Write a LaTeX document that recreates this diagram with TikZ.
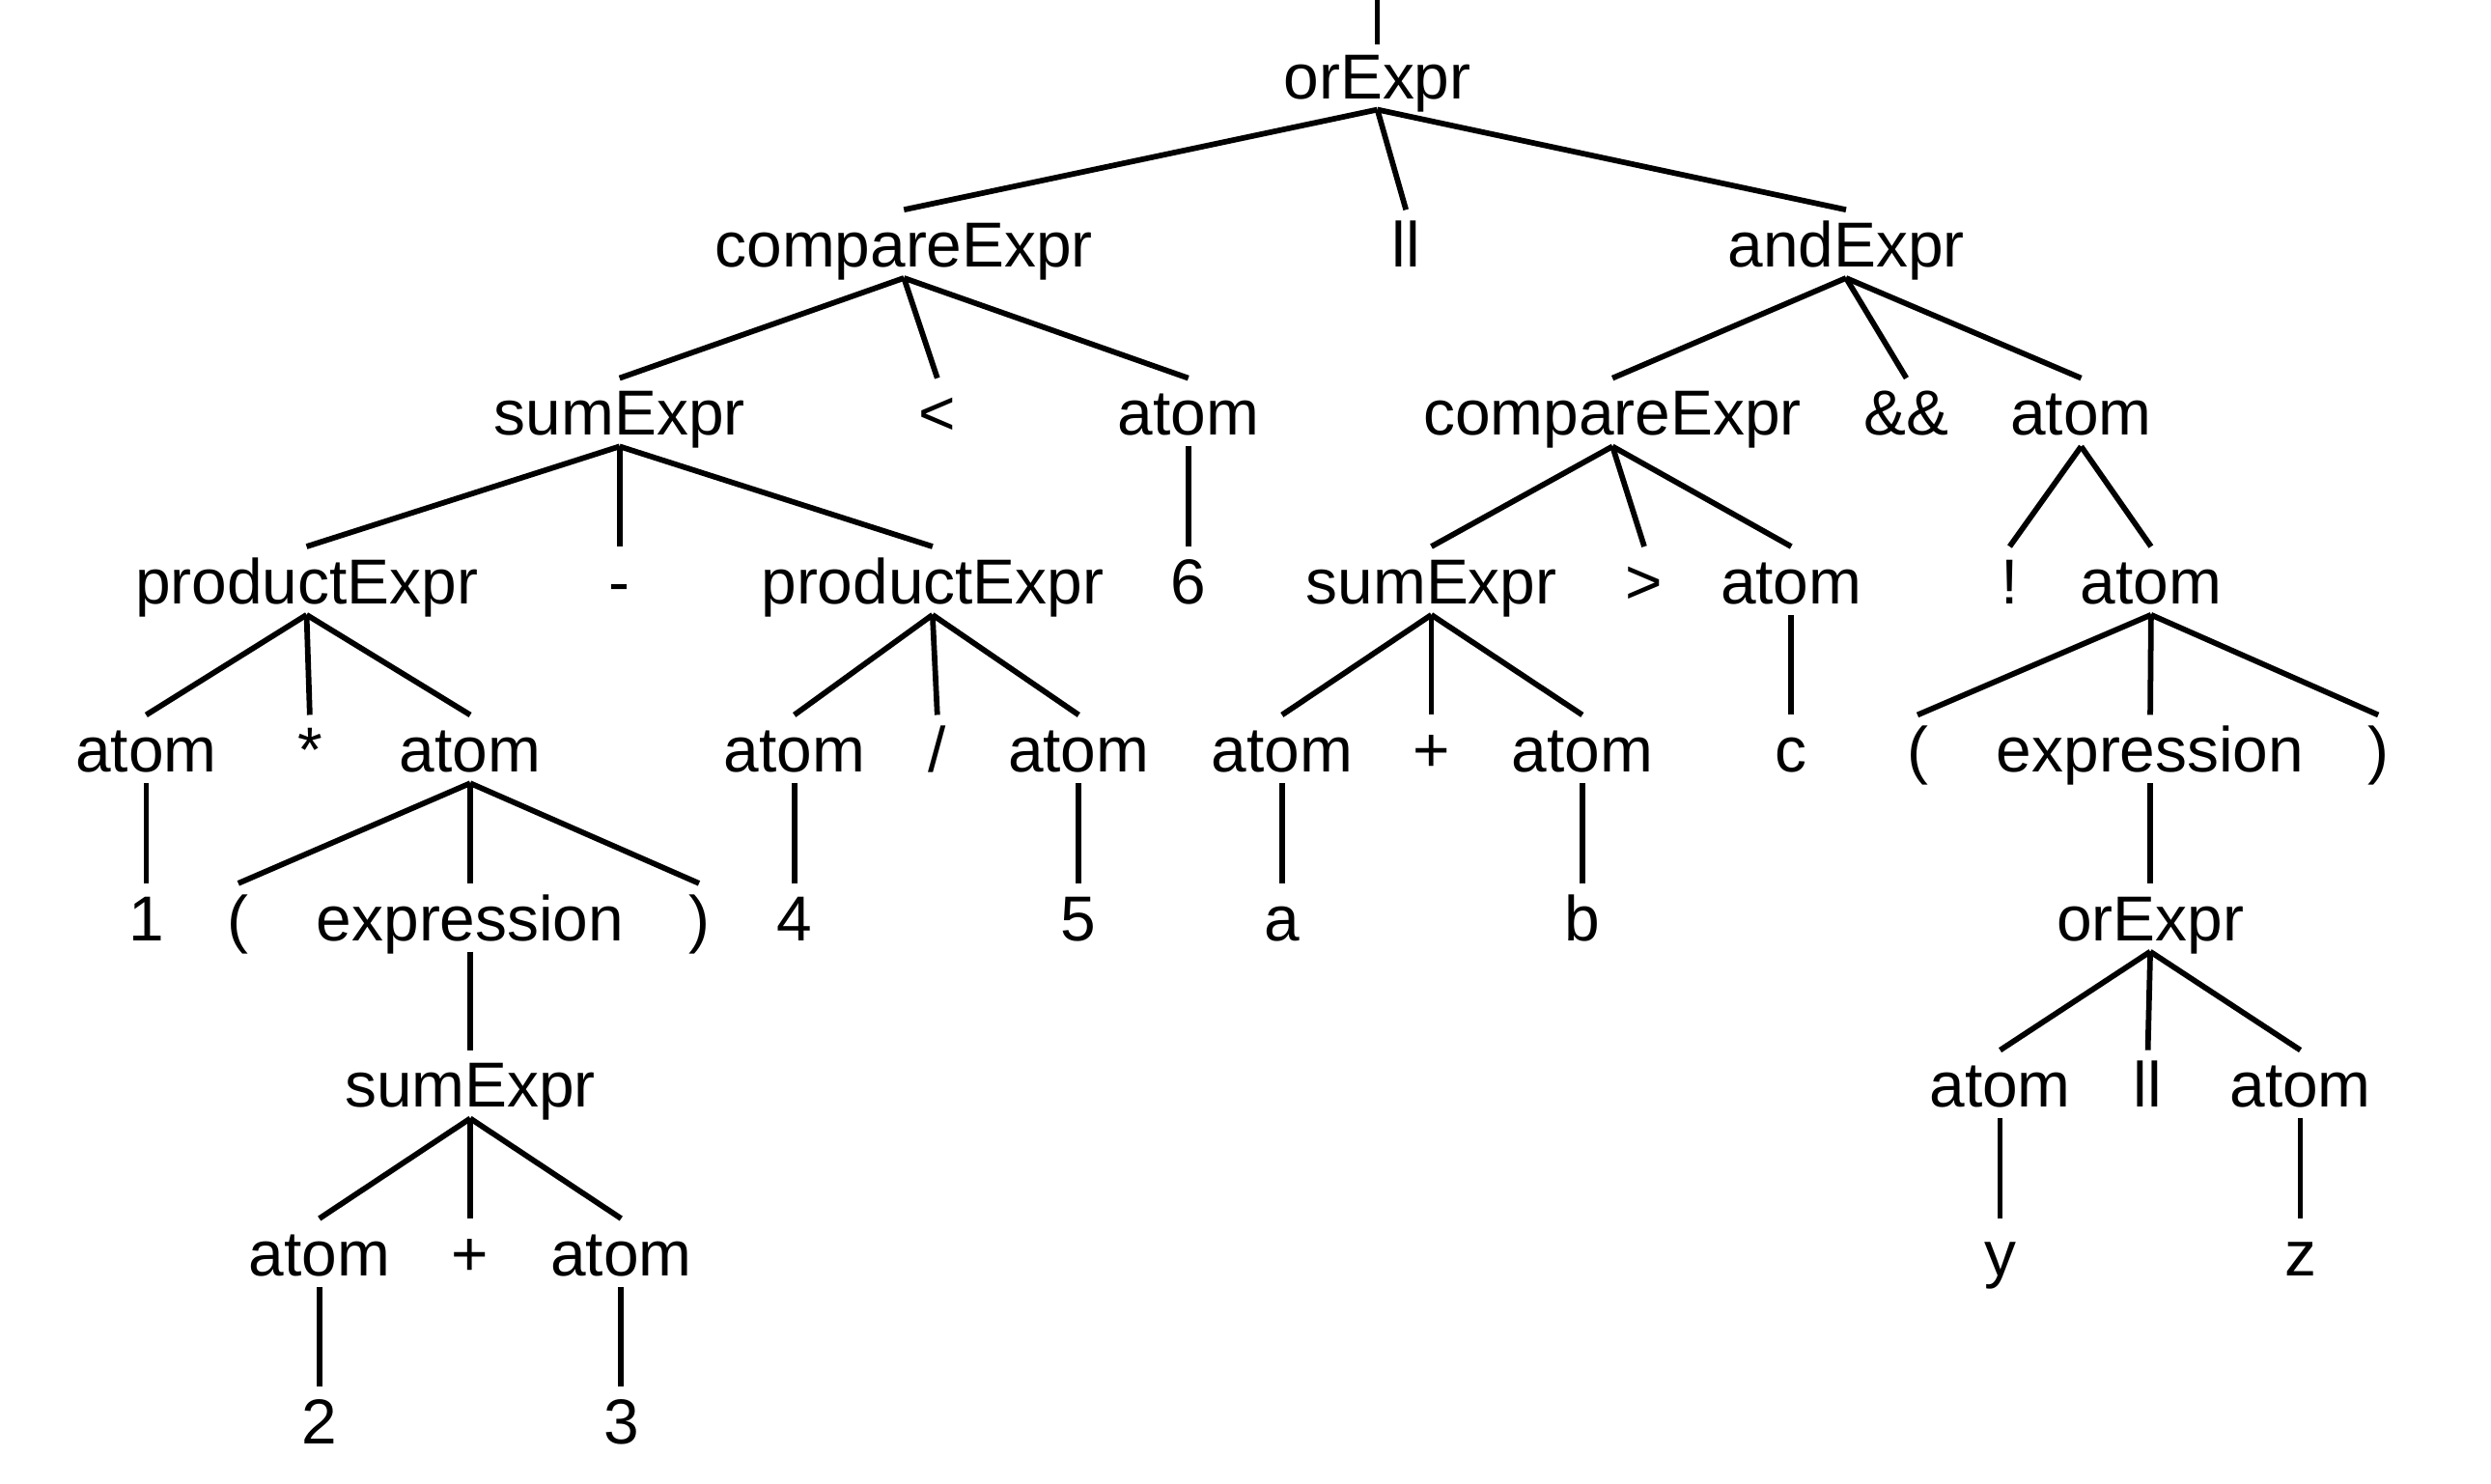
\documentclass[tikz,border=0pt]{standalone}
\usepackage{fontspec}
\setmainfont{Liberation Sans}
\begin{document}
\begin{tikzpicture}[x=0.5pt,y=-0.5pt,
  t/.style={anchor=base, inner sep=0pt, font=\fontsize{20}{24}\selectfont},
  edge/.style={line width=1.75pt, line cap=butt}]
\useasboundingbox (0,0) rectangle (1568,934);
\def\la{62}\def\lb{168}\def\lc{274}\def\ld{380}\def\le{486}\def\lf{592}\def\lg{697}\def\lh{803}\def\li{909}
\newcommand\ed[2]{\draw[edge] ([yshift=-3.5pt]#1.base) -- ([yshift=18pt]#2.base);}
% level 0
\node[t] (r) at (867,\la) {orExpr};
\coordinate (top) at (867,0);
\draw[edge] (top) -- ([yshift=17pt]r.base);
% level 1
\node[t] (n1) at (569,\lb) {compareExpr};
\node[t] (n2) at (885,\lb) {ll};
\node[t] (n3) at (1162,\lb) {andExpr};
% level 2
\node[t] (a1) at (390,\lc) {sumExpr};
\node[t] (a2) at (590,\lc) {<};
\node[t] (a3) at (748,\lc) {atom};
\node[t] (b1) at (1015,\lc) {compareExpr};
\node[t] (b2) at (1200,\lc) {\&\&};
\node[t] (b3) at (1310,\lc) {atom};
% level 3
\node[t] (a11) at (193,\ld) {productExpr};
\node[t] (a12) at (390,\ld) {-};
\node[t] (a13) at (587,\ld) {productExpr};
\node[t] (a31) at (748,\ld) {6};
\node[t] (b11) at (901,\ld) {sumExpr};
\node[t] (b12) at (1035,\ld) {>};
\node[t] (b13) at (1127.5,\ld) {atom};
\node[t] (b31) at (1265,\ld) {!};
\node[t] (b32) at (1354,\ld) {atom};
% level 4
\node[t] (c1) at (92,\le) {atom};
\node[t] (c2) at (195,\le) {*};
\node[t] (c3) at (296,\le) {atom};
\node[t] (c4) at (500,\le) {atom};
\node[t] (c5) at (590,\le) {/};
\node[t] (c6) at (679,\le) {atom};
\node[t] (d1) at (807,\le) {atom};
\node[t] (d2) at (901,\le) {+};
\node[t] (d3) at (996,\le) {atom};
\node[t] (d4) at (1127.5,\le) {c};
\node[t] (e1) at (1207,\le) {(};
\node[t] (e2) at (1353.5,\le) {expression};
\node[t] (e3) at (1497,\le) {)};
% level 5
\node[t] (f1) at (92,\lf) {1};
\node[t] (f2) at (150,\lf) {(};
\node[t] (f3) at (296,\lf) {expression};
\node[t] (f4) at (440,\lf) {)};
\node[t] (f5) at (500,\lf) {4};
\node[t] (f6) at (679,\lf) {5};
\node[t] (f7) at (807,\lf) {a};
\node[t] (f8) at (996,\lf) {b};
\node[t] (f9) at (1353.5,\lf) {orExpr};
% level 6
\node[t] (g1) at (296,\lg) {sumExpr};
\node[t] (g2) at (1259,\lg) {atom};
\node[t] (g3) at (1352,\lg) {ll};
\node[t] (g4) at (1448,\lg) {atom};
% level 7
\node[t] (h1) at (201,\lh) {atom};
\node[t] (h2) at (296,\lh) {+};
\node[t] (h3) at (391,\lh) {atom};
\node[t] (h4) at (1259,\lh) {y};
\node[t] (h5) at (1448,\lh) {z};
% level 8
\node[t] (i1) at (201,\li) {2};
\node[t] (i2) at (391,\li) {3};
% edges
\ed{r}{n1}\ed{r}{n2}\ed{r}{n3}
\ed{n1}{a1}\ed{n1}{a2}\ed{n1}{a3}
\ed{n3}{b1}\ed{n3}{b2}\ed{n3}{b3}
\ed{a1}{a11}\ed{a1}{a12}\ed{a1}{a13}
\ed{a3}{a31}
\ed{b1}{b11}\ed{b1}{b12}\ed{b1}{b13}
\ed{b3}{b31}\ed{b3}{b32}
\ed{a11}{c1}\ed{a11}{c2}\ed{a11}{c3}
\ed{a13}{c4}\ed{a13}{c5}\ed{a13}{c6}
\ed{b11}{d1}\ed{b11}{d2}\ed{b11}{d3}
\ed{b13}{d4}
\ed{b32}{e1}\ed{b32}{e2}\ed{b32}{e3}
\ed{c1}{f1}
\ed{c3}{f2}\ed{c3}{f3}\ed{c3}{f4}
\ed{c4}{f5}\ed{c6}{f6}
\ed{d1}{f7}\ed{d3}{f8}
\ed{e2}{f9}
\ed{f3}{g1}
\ed{f9}{g2}\ed{f9}{g3}\ed{f9}{g4}
\ed{g1}{h1}\ed{g1}{h2}\ed{g1}{h3}
\ed{g2}{h4}\ed{g4}{h5}
\ed{h1}{i1}\ed{h3}{i2}
\end{tikzpicture}
\end{document}
